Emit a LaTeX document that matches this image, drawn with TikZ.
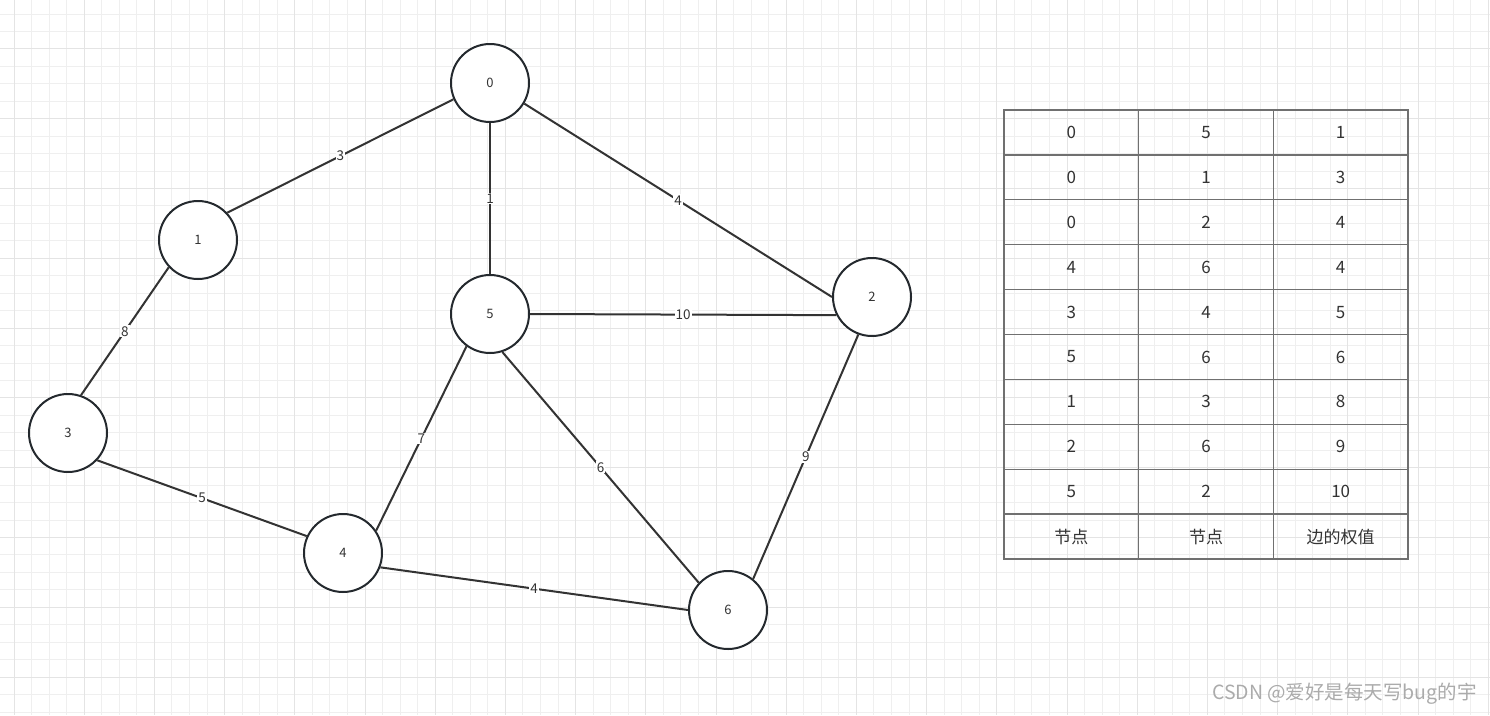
\documentclass[tikz,border=0pt]{standalone}
\usepackage{fontspec}
\setmainfont{Noto Sans CJK SC}
\definecolor{nodeline}{HTML}{24292E}
\definecolor{edgeline}{HTML}{333333}
\definecolor{gridminor}{HTML}{EFEFEF}
\definecolor{gridmajor}{HTML}{E4E4E4}
\definecolor{tableline}{HTML}{707070}
\definecolor{txt}{HTML}{333333}
\definecolor{wmark}{HTML}{ABABAB}
\begin{document}
\begin{tikzpicture}[x=1pt,y=-1pt,
  vtx/.style={circle, draw=nodeline, line width=2pt, minimum size=78pt, inner sep=0pt, fill=white, text=txt, font=\fontsize{13}{13}\selectfont},
  edge/.style={draw=edgeline, line width=2pt},
  wlabel/.style={fill=white, inner sep=1pt, text=txt, font=\fontsize{13.5}{13.5}\selectfont},
  cell/.style={draw=tableline, line width=1.3pt, minimum width=134.67pt, minimum height=44.9pt, inner sep=0pt, text=txt, font=\fontsize{17}{17}\selectfont},
  wm/.style={text=wmark, inner sep=0pt, font=\fontsize{19.5}{19.5}\selectfont}]
\useasboundingbox (0,0) rectangle (1490,715);
\fill[white] (0,0) rectangle (1490,715);
% grid
\foreach \i in {0,...,84} {
  \pgfmathsetmacro{\xx}{14+\i*17.55}
  \draw[gridminor, line width=1pt] (\xx,0) -- (\xx,715);
}
\foreach \j in {0,...,40} {
  \pgfmathsetmacro{\yy}{14+\j*17.45}
  \draw[gridminor, line width=1pt] (0,\yy) -- (1490,\yy);
}
\foreach \i in {0,4,...,84} {
  \pgfmathsetmacro{\xx}{14+\i*17.55}
  \draw[gridmajor, line width=1pt] (\xx,0) -- (\xx,715);
}
\foreach \j in {2,6,...,40} {
  \pgfmathsetmacro{\yy}{14+\j*17.45}
  \draw[gridmajor, line width=1pt] (0,\yy) -- (1490,\yy);
}
% nodes
\node[vtx] (n0) at (490,83) {0};
\node[vtx] (n1) at (198,240) {1};
\node[vtx] (n2) at (872,297) {2};
\node[vtx] (n3) at (68,433) {3};
\node[vtx] (n4) at (343,553) {4};
\node[vtx] (n5) at (490,314) {5};
\node[vtx] (n6) at (728,610) {6};
% edges
\draw[edge] (n0.204) -- node[wlabel]{3} (n1.43);
\draw[edge] (n0.south) -- node[wlabel]{1} (n5.north);
\draw[edge] (n0.329) -- node[wlabel]{4} (n2.west);
\draw[edge] (n1.223) -- node[wlabel]{8} (n3.71);
\draw[edge] (n5.east) -- node[wlabel]{10} (n2.207);
\draw[edge] (n5.234) -- node[wlabel]{7} (n4.34);
\draw[edge] (n5.288) -- node[wlabel]{6} (n6.137);
\draw[edge] (n2.250) -- node[wlabel]{9} (n6.51);
\draw[edge] (n3.317) -- node[wlabel]{5} (n4.155);
\draw[edge] (n4.339) -- node[wlabel]{4} (n6.west);
% table
\foreach \r/\a/\b/\c in {0/0/5/1,1/0/1/3,2/0/2/4,3/4/6/4,4/3/4/5,5/5/6/6,6/1/3/8,7/2/6/9,8/5/2/10,9/节点/节点/边的权值} {
  \node[cell] (t\r a) at (1071.33,{132.45+\r*44.9}) {\a};
  \node[cell] (t\r b) at (1206,{132.45+\r*44.9}) {\b};
  \node[cell] (t\r c) at (1340.67,{132.45+\r*44.9}) {\c};
}
% watermark
\node[wm, anchor=east] (wmk) at (1477,694) {CSDN @爱好是每天写bug的宇};
\end{tikzpicture}
\end{document}
